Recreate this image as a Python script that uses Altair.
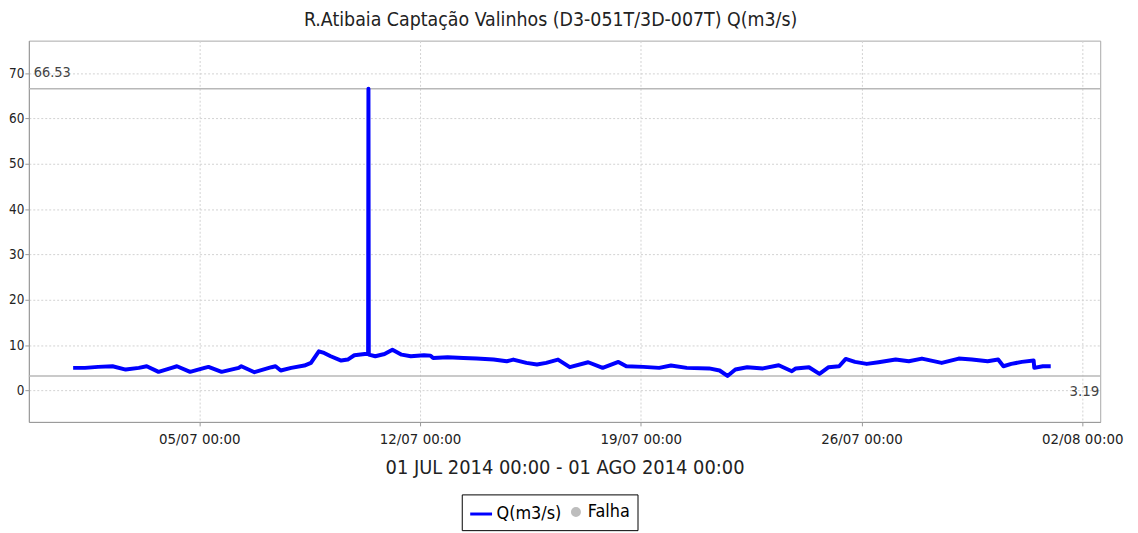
import altair as alt
import pandas as pd

# ---- data ----
times = [
    "2014-07-01T00:00", "2014-07-01T09:00", "2014-07-01T19:00", "2014-07-02T06:00",
    "2014-07-02T16:00", "2014-07-03T02:00", "2014-07-03T08:00", "2014-07-03T17:00",
    "2014-07-04T03:00", "2014-07-04T07:00", "2014-07-04T17:00", "2014-07-05T04:00",
    "2014-07-05T07:00", "2014-07-05T17:00", "2014-07-06T06:00", "2014-07-06T08:00",
    "2014-07-06T18:00", "2014-07-07T07:00", "2014-07-07T10:00", "2014-07-07T14:00",
    "2014-07-07T22:00", "2014-07-08T08:00", "2014-07-08T13:00", "2014-07-08T19:00",
    "2014-07-08T23:00", "2014-07-09T04:00", "2014-07-09T12:00", "2014-07-09T17:00",
    "2014-07-09T22:00", "2014-07-10T06:00", "2014-07-10T08:30", "2014-07-10T08:45",
    "2014-07-10T09:00", "2014-07-10T14:00", "2014-07-10T21:00", "2014-07-11T03:00",
    "2014-07-11T10:00", "2014-07-11T17:00", "2014-07-12T03:00", "2014-07-12T08:00",
    "2014-07-12T10:00", "2014-07-12T21:00", "2014-07-13T09:00", "2014-07-13T19:00",
    "2014-07-14T08:00", "2014-07-14T18:00", "2014-07-14T23:00", "2014-07-15T09:00",
    "2014-07-15T17:00", "2014-07-16T00:00", "2014-07-16T09:00", "2014-07-16T18:00",
    "2014-07-17T08:00", "2014-07-17T19:00", "2014-07-18T07:00", "2014-07-18T13:00",
    "2014-07-19T02:00", "2014-07-19T14:00", "2014-07-19T23:00", "2014-07-20T11:00",
    "2014-07-21T04:00", "2014-07-21T12:00", "2014-07-21T18:00", "2014-07-22T00:00",
    "2014-07-22T09:00", "2014-07-22T21:00", "2014-07-23T09:00", "2014-07-23T19:00",
    "2014-07-23T22:00", "2014-07-24T08:00", "2014-07-24T16:00", "2014-07-24T23:00",
    "2014-07-25T07:00", "2014-07-25T12:00", "2014-07-25T19:00", "2014-07-26T04:00",
    "2014-07-26T13:00", "2014-07-27T02:00", "2014-07-27T12:00", "2014-07-27T22:00",
    "2014-07-28T13:00", "2014-07-29T02:00", "2014-07-29T12:00", "2014-07-30T00:00",
    "2014-07-30T08:00", "2014-07-30T12:00", "2014-07-30T18:00", "2014-07-31T02:00",
    "2014-07-31T11:00", "2014-07-31T11:30", "2014-07-31T18:00", "2014-08-01T00:00",
]
flow = [
    4.97, 4.97, 5.19, 5.33,
    4.60, 4.97, 5.33, 4.09,
    4.97, 5.33, 4.09, 4.97,
    5.19, 4.09, 4.97, 5.33,
    4.02, 5.12, 5.33, 4.39,
    4.97, 5.48, 6.07, 8.62,
    8.26, 7.53, 6.58, 6.80,
    7.75, 8.04, 8.00, 66.53,
    7.90, 7.53, 8.04, 8.99,
    7.89, 7.53, 7.75, 7.67,
    7.16, 7.31, 7.16, 7.02,
    6.80, 6.43, 6.80, 6.07,
    5.70, 6.07, 6.80, 5.12,
    6.21, 4.97, 6.29, 5.33,
    5.19, 4.97, 5.48, 4.97,
    4.85, 4.39, 3.19, 4.60,
    5.12, 4.85, 5.55, 4.24,
    4.85, 5.12, 3.65, 5.12,
    5.33, 6.94, 6.29, 5.85,
    6.21, 6.80, 6.43, 7.02,
    6.07, 7.02, 6.80, 6.43,
    6.80, 5.33, 5.85, 6.29,
    6.58, 4.97, 5.33, 5.33,
]
series_names = ["Q(m3/s)", "Falha"]
series_colors = ["#0000ff", "#bdbdbd"]
y_ticks = [0, 10, 20, 30, 40, 50, 60, 70]
x_tick_days = [5, 12, 19, 26]

df = pd.DataFrame({"t": times, "q": flow})

FONT = "DejaVu Sans Condensed"
W, H = 1079, 384

x_scale = alt.Scale(
    domain=[alt.DateTime(year=2014, month=6, date=29, hours=14, minutes=18),
            alt.DateTime(year=2014, month=8, date=2, hours=13, minutes=40)],
    nice=False,
)
x_vals = [alt.DateTime(year=2014, month=7, date=d) for d in x_tick_days] + [
    alt.DateTime(year=2014, month=8, date=2)]
y_scale = alt.Scale(domain=[-6.95, 77.15], nice=False, zero=False)

x_enc = alt.X(
    "t:T", scale=x_scale,
    axis=alt.Axis(values=x_vals, format="%d/%m %H:%M",
                  title="01 JUL 2014 00:00 - 01 AGO 2014 00:00"),
)
y_enc = alt.Y(
    "q:Q", scale=y_scale,
    axis=alt.Axis(values=y_ticks, title=None, format="d"),
)

base = alt.Chart(df)

line = base.mark_line(color="#0000ff", strokeWidth=4, strokeJoin="round").encode(
    x=x_enc, y=y_enc
)

# max / min reference lines and labels
maxrule = base.transform_aggregate(qmax="max(q)").mark_rule(
    color="#b8b8b8", strokeWidth=1.5
).encode(y=alt.Y("qmax:Q", scale=y_scale))
minrule = base.transform_aggregate(qmin="min(q)").mark_rule(
    color="#b8b8b8", strokeWidth=1.5
).encode(y=alt.Y("qmin:Q", scale=y_scale))
maxtext = base.transform_aggregate(qmax="max(q)").mark_text(
    align="left", baseline="middle", dy=-15.5, font=FONT, fontSize=14.5, color="#444444"
).encode(x=alt.value(5), y=alt.Y("qmax:Q", scale=y_scale),
         text=alt.Text("qmax:Q", format=".2f"))
mintext = base.transform_aggregate(qmin="min(q)").mark_text(
    align="right", baseline="middle", dy=15.5, font=FONT, fontSize=15, color="#444444"
).encode(x=alt.value(W - 1), y=alt.Y("qmin:Q", scale=y_scale),
         text=alt.Text("qmin:Q", format=".2f"))

# legend carrier (no visible points)
leg = dict(
    title=None, orient="none", legendX=436, legendY=457,
    direction="horizontal", strokeColor="#000000", padding=7,
    labelFont=FONT, labelFontSize=18, labelColor="#000000",
    symbolStrokeWidth=3, columnPadding=4, labelOffset=3, cornerRadius=0,
    symbolOpacity=1,
)
legend_layer = base.transform_filter("datum.q < -1000").transform_calculate(
    serie="'Q(m3/s)'"
).mark_point(filled=True, opacity=1, strokeWidth=3).encode(
    x=x_enc, y=y_enc,
    color=alt.Color("serie:N", scale=alt.Scale(domain=series_names, range=series_colors),
                    legend=alt.Legend(**leg)),
    stroke=alt.Stroke("serie:N", scale=alt.Scale(domain=series_names, range=series_colors),
                      legend=alt.Legend(**leg)),
    shape=alt.Shape("serie:N", scale=alt.Scale(domain=series_names, range=["stroke", "circle"]),
                    legend=alt.Legend(**leg)),
    size=alt.Size("serie:N", scale=alt.Scale(domain=series_names, range=[484, 50]),
                  legend=alt.Legend(**leg)),
)

chart = alt.layer(maxrule, minrule, line, maxtext, mintext, legend_layer).properties(
    width=W, height=H,
    title=alt.TitleParams(
        "R.Atibaia Captação Valinhos (D3-051T/3D-007T) Q(m3/s)",
        font=FONT, fontSize=19.5, fontWeight="normal", color="#222222",
        anchor="middle", dx=-14, offset=10,
    ),
    autosize=alt.AutoSizeParams(type="none"),
    padding={"left": 21, "top": 31, "right": 30, "bottom": 110},
).configure_view(
    stroke="#a8a8a8", strokeWidth=1
).configure_axis(
    grid=True, gridColor="#d2d2d2", gridDash=[2, 2], gridWidth=1,
    domainColor="#999999", tickColor="#999999", tickSize=4,
    labelFont=FONT, labelColor="#222222",
    titleFont=FONT, titleFontWeight="normal", titleColor="#222222",
).configure_axisX(
    labelFontSize=15, labelPadding=6, titleFontSize=20, titlePadding=11,
).configure_axisY(
    labelFontSize=13.5, labelPadding=1,
)

chart.save("out.html", embed_options={"renderer": "svg", "actions": False})
